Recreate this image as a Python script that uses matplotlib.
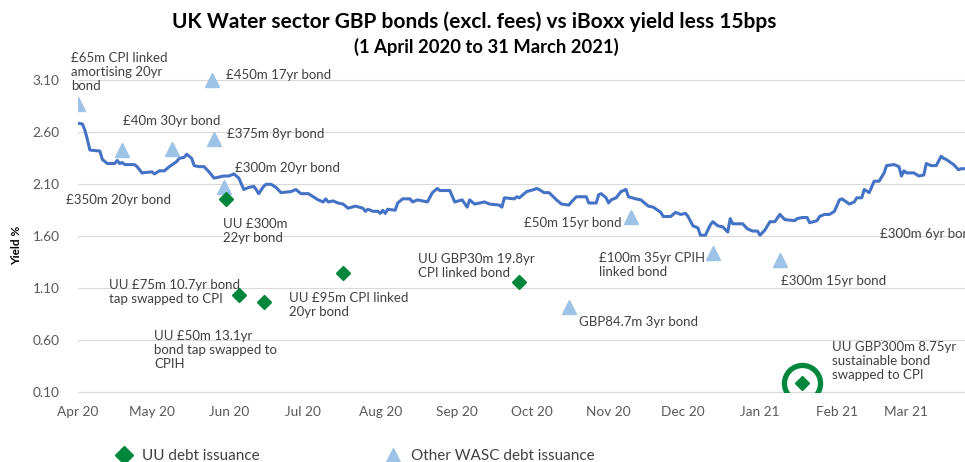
import matplotlib
matplotlib.use("Agg")
import matplotlib.pyplot as plt
import matplotlib.dates as mdates
from matplotlib.lines import Line2D
import numpy as np
import pandas as pd

plt.rcParams["font.family"] = ["Lato", "DejaVu Sans"]

START = pd.Timestamp("2020-04-01")

# iBoxx yield less 15bps, days counted from 1 April 2020
iboxx_days = [
    0, 2, 3, 4, 5, 9, 10, 12, 15, 16, 17, 18, 19, 23, 24, 26, 30, 31, 33, 35, 37, 40, 41, 43, 44, 46, 47, 49, 51, 53, 55, 57, 59, 61,
    63, 65, 67, 69, 71, 72, 73, 75, 76, 78, 80, 82, 86, 88, 89, 90, 93, 95, 97, 99, 100, 101, 103, 105, 107, 109, 112, 115, 116, 117, 119, 121, 122,
    123, 124, 125, 128, 129, 131, 134, 135, 137, 141, 143, 145, 146, 150, 152, 155, 157, 158, 160, 164, 166, 170, 171, 172, 176, 177, 178, 181,
    184, 185, 186, 188, 190, 193, 195, 198, 199, 201, 205, 206, 209, 210, 211, 213, 214, 215, 217, 219, 221, 222, 225, 227, 230, 232, 235, 236, 239, 241, 243,
    245, 246, 248, 250, 251, 253, 255, 256, 258, 260, 262, 263, 264, 268, 270, 272, 274, 275, 277, 279, 281, 283, 285, 289, 290, 292, 294, 295, 298, 299,
    301, 303, 305, 307, 308, 311, 313, 314, 316, 317, 319, 321, 323, 325, 326, 329, 331, 332, 333, 334, 337, 339, 341, 342, 344, 346, 348, 349, 350, 353, 355, 356, 358,
]
iboxx_yield = [
    2.69, 2.68, 2.62, 2.53, 2.43, 2.42, 2.34, 2.30, 2.30, 2.33, 2.30, 2.31, 2.29, 2.29, 2.27, 2.21, 2.22, 2.20, 2.23, 2.23, 2.27, 2.32, 2.35, 2.36, 2.39, 2.35, 2.28, 2.27, 2.27, 2.22, 2.16, 2.17, 2.18, 2.18,
    2.20, 2.16, 2.05, 2.07, 2.08, 2.05, 2.01, 2.08, 2.10, 2.10, 2.07, 2.02, 2.03, 2.05, 2.03, 2.01, 2.01, 1.98, 1.95, 1.93, 1.96, 1.93, 1.94, 1.92, 1.91, 1.87, 1.89, 1.87, 1.84, 1.86, 1.84, 1.84, 1.82,
    1.85, 1.82, 1.86, 1.85, 1.92, 1.96, 1.96, 1.93, 1.95, 1.93, 2.02, 2.06, 2.04, 2.04, 1.93, 1.95, 1.88, 1.95, 1.91, 1.93, 1.91, 1.90, 1.88, 1.97, 1.96, 1.98, 1.97, 2.03,
    2.05, 2.06, 2.05, 2.02, 2.02, 1.95, 1.91, 1.90, 1.93, 1.98, 1.98, 1.92, 1.92, 2.00, 2.01, 1.97, 1.92, 1.95, 1.97, 2.03, 2.05, 1.98, 1.96, 1.95, 1.89, 1.88, 1.83, 1.79, 1.79, 1.83, 1.81,
    1.82, 1.79, 1.70, 1.68, 1.61, 1.61, 1.71, 1.74, 1.70, 1.69, 1.64, 1.77, 1.72, 1.72, 1.67, 1.65, 1.65, 1.61, 1.66, 1.74, 1.74, 1.81, 1.76, 1.75, 1.77, 1.78, 1.78, 1.73, 1.75, 1.79,
    1.81, 1.81, 1.84, 1.95, 1.96, 1.91, 1.93, 1.97, 1.97, 2.05, 2.02, 2.13, 2.13, 2.21, 2.28, 2.29, 2.27, 2.18, 2.23, 2.21, 2.21, 2.18, 2.19, 2.30, 2.28, 2.28, 2.37, 2.35, 2.34, 2.29, 2.24, 2.25, 2.25,
]

# United Utilities issues
uu_days = [60, 65, 75, 107, 178, 292]
uu_yield = [1.96, 1.03, 0.97, 1.25, 1.16, 0.19]

# other water and sewerage companies
wasc_days = [0, 18, 38, 54, 55, 59, 198, 223, 256, 283, 361]
wasc_yield = [2.87, 2.43, 2.44, 3.10, 2.54, 2.07, 0.92, 1.79, 1.44, 1.37, 1.84]

# text, x in days, y in yield %
notes = [
    ("£65m CPI linked\namortising 20yr\nbond", -2.6, 3.18),
    ("£40m 30yr bond", 18.4, 2.71),
    ("£450m 17yr bond", 60.0, 3.15),
    ("£375m 8yr bond", 60.3, 2.58),
    ("£300m 20yr bond", 63.5, 2.26),
    ("£350m 20yr bond", -4.6, 1.95),
    ("UU £300m\n22yr bond", 58.8, 1.65),
    ("UU £75m 10.7yr bond\ntap swapped to CPI", 12.8, 1.06),
    ("UU £50m 13.1yr\nbond tap swapped to\nCPIH", 30.8, 0.50),
    ("UU £95m CPI linked\n20yr bond", 85.4, 0.94),
    ("UU GBP30m 19.8yr\nCPI linked bond", 137.2, 1.31),
    ("GBP84.7m 3yr bond", 201.9, 0.77),
    ("£50m 15yr bond", 180.0, 1.73),
    ("£100m 35yr CPIH\nlinked bond", 210.3, 1.32),
    ("£300m 15yr bond", 283.3, 1.17),
    ("£300m 6yr bond", 323.3, 1.62),
    ("UU GBP300m 8.75yr\nsustainable bond\nswapped to CPI", 304.1, 0.40),
]

LINE_BLUE = "#4472C4"
WASC_BLUE = "#9DC3E6"
UU_GREEN = "#00873C"
TEXT_GREY = "#404040"


def to_dates(days):
    return START + pd.to_timedelta(np.asarray(days, dtype=float), unit="D")


fig = plt.figure(figsize=(9.65, 4.62), dpi=100)
ax = fig.add_axes([77.5 / 965, 70 / 462, 1 - 77.5 / 965, (392.3 - 60) / 462])

ax.plot(to_dates(iboxx_days), iboxx_yield, color=LINE_BLUE, linewidth=2.2, zorder=3)
ax.plot(to_dates(wasc_days), wasc_yield, linestyle="none", marker="^", markersize=10,
        color=WASC_BLUE, zorder=4)
ax.plot(to_dates(uu_days), uu_yield, linestyle="none", marker="D", markersize=6.8,
        color=UU_GREEN, zorder=5)
# ring round the sustainable bond
ax.plot(to_dates(uu_days[-1:]), uu_yield[-1:], linestyle="none", marker="o", markersize=26,
        markerfacecolor="none", markeredgecolor=UU_GREEN, markeredgewidth=3.8, zorder=5)

for text, x, y in notes:
    ax.text(START + pd.Timedelta(days=x), y, text, ha="left", va="center", fontsize=9.5,
            color=TEXT_GREY, linespacing=1.2, zorder=6)

ax.set_ylim(0.10, 3.30)
ax.set_yticks([0.10, 0.60, 1.10, 1.60, 2.10, 2.60, 3.10])
ax.yaxis.set_major_formatter(matplotlib.ticker.FormatStrFormatter("%.2f"))
ax.set_xlim(START, START + pd.Timedelta(days=357.6))
ax.xaxis.set_major_locator(mdates.MonthLocator())
ax.xaxis.set_major_formatter(mdates.DateFormatter("%b %y"))
ax.grid(axis="y", color="#D9D9D9", linewidth=0.8)
ax.set_axisbelow(True)
for side in ["top", "right", "left"]:
    ax.spines[side].set_visible(False)
ax.spines["bottom"].set_color("#D9D9D9")
ax.spines["bottom"].set_linewidth(0.8)
ax.tick_params(length=0, labelsize=9.8, colors="#595959")
ax.tick_params(axis="y", pad=13)
ax.tick_params(axis="x", pad=10)

fig.text(474 / 965, 1 - 22 / 462, "UK Water sector GBP bonds (excl. fees) vs iBoxx yield less 15bps",
         ha="center", va="center", fontsize=15, fontweight="bold")
fig.text(486 / 965, 1 - 47 / 462, "(1 April 2020 to 31 March 2021)",
         ha="center", va="center", fontsize=13.2, fontweight="bold")
fig.text(17 / 965, 1 - 245 / 462, "Yield %", rotation=90, ha="center", va="center",
         fontsize=8.5, fontweight="bold")

handles = [
    Line2D([], [], linestyle="none", marker="D", markersize=9, color=UU_GREEN),
    Line2D([], [], linestyle="none", marker="^", markersize=10, color=WASC_BLUE),
]
fig.legend(handles, ["UU debt issuance", "Other WASC debt issuance"], ncol=2, frameon=False,
           loc="center left", bbox_to_anchor=(99 / 965, 1 - 456 / 462), fontsize=11,
           labelcolor="#404040", handletextpad=0.4, columnspacing=8.0, handlelength=1.5)

fig.savefig("out.png", dpi=100)
